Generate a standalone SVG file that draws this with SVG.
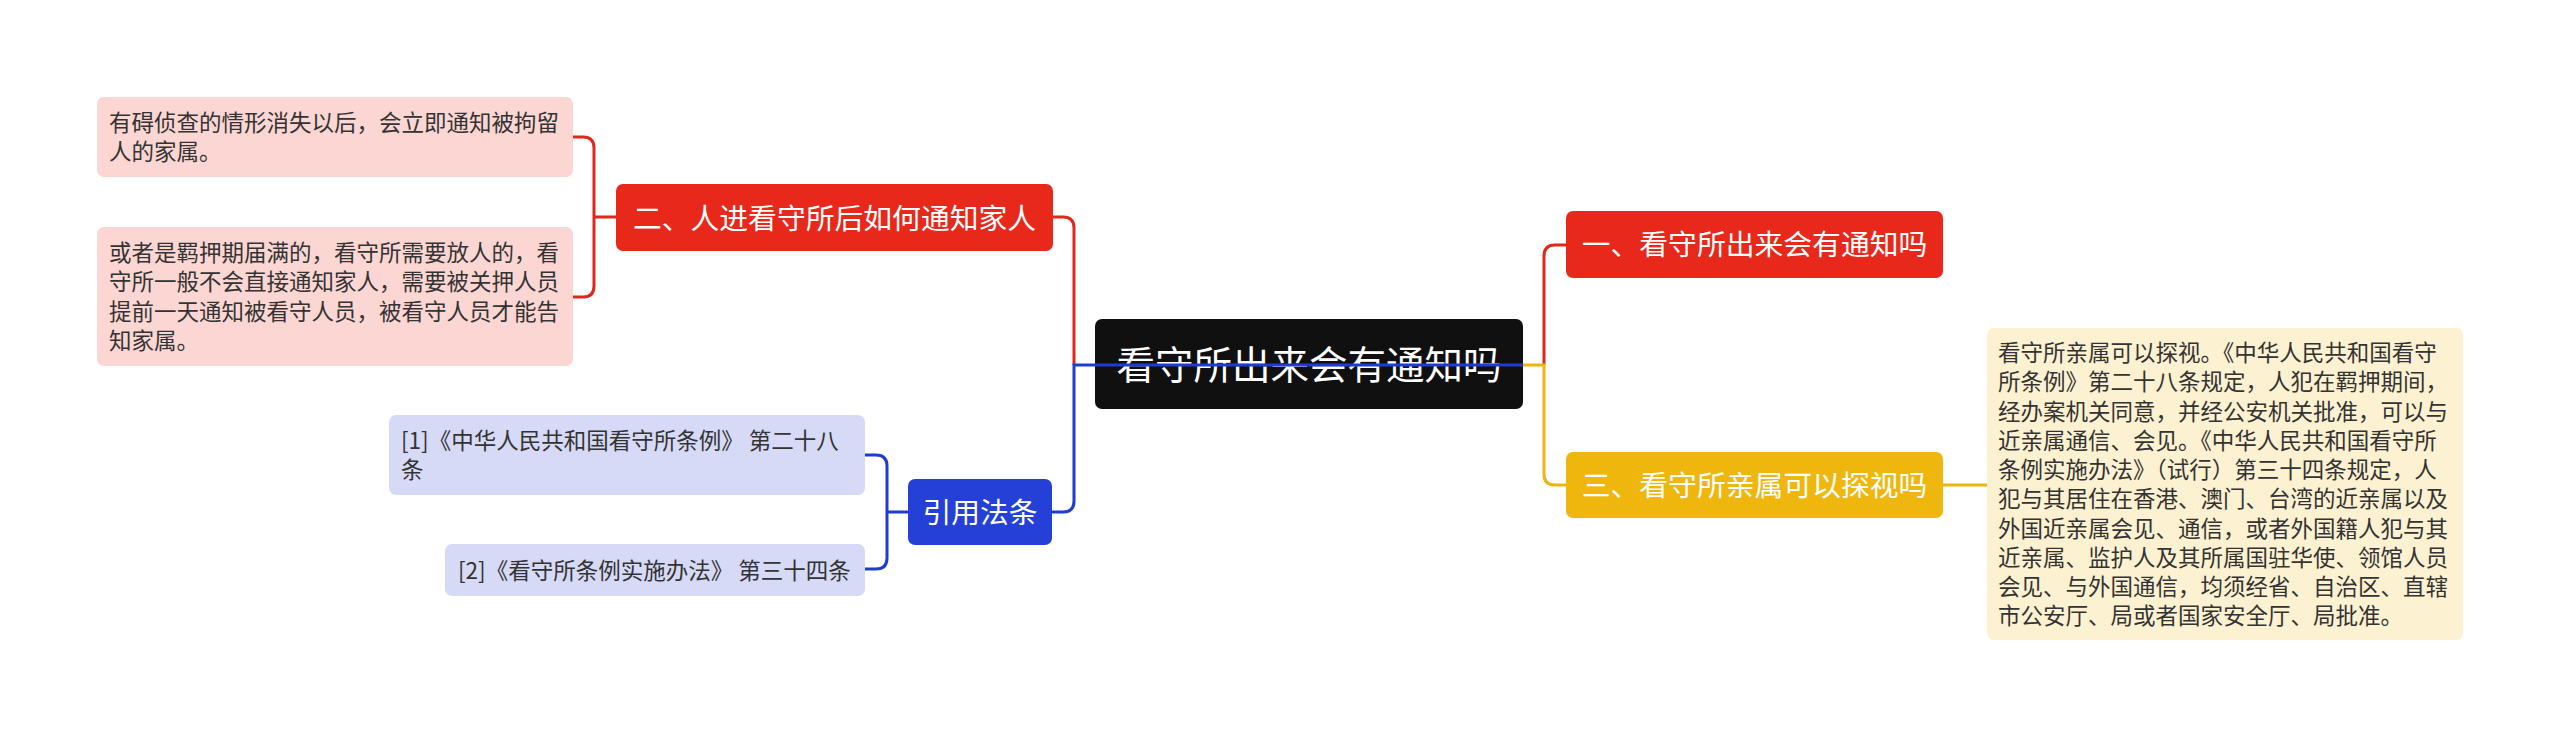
<svg xmlns="http://www.w3.org/2000/svg" width="2560" height="739" viewBox="0 0 2560 739">
<style>
text{font-family:"Noto Sans CJK SC","Noto Sans",sans-serif;}
.center{fill:#101010;}
.ctext{fill:#ffffff;font-size:38.5px;text-anchor:middle;}
.btext{fill:#ffffff;font-size:28.8px;text-anchor:middle;}
.red{fill:#e8281b;}
.yellow{fill:#efb70e;}
.blue{fill:#2440d6;}
.lred{fill:#fcd6d3;}
.lyellow{fill:#fcf1d0;}
.lblue{fill:#d6daf7;}
.ltext{fill:#333333;font-size:22.5px;}
.c{fill:none;stroke-width:3;}
.cr{stroke:#e0271b;}
.cy{stroke:#ecb50f;}
.cb{stroke:#1f3ccf;}
</style>
<rect width="2560" height="739" fill="#ffffff"/>
<g id="center">
<rect class="center" x="1095" y="319" width="428" height="90" rx="7"/>
<text class="ctext" x="1309" y="379">看守所出来会有通知吗</text>
</g>
<g id="n1">
<rect class="red" x="1566" y="211" width="377" height="67" rx="7"/>
<text class="btext" x="1754.5" y="255">一、看守所出来会有通知吗</text>
</g>
<g id="n3">
<rect class="yellow" x="1566" y="452" width="377" height="66" rx="7"/>
<text class="btext" x="1754.5" y="496">三、看守所亲属可以探视吗</text>
</g>
<g id="n3leaf">
<rect class="lyellow" x="1987" y="328" width="476" height="312" rx="7"/>
<text class="ltext" x="1998" y="361">看守所亲属可以探视。《中华人民共和国看守</text>
<text class="ltext" x="1998" y="390.25">所条例》第二十八条规定，人犯在羁押期间，</text>
<text class="ltext" x="1998" y="419.5">经办案机关同意，并经公安机关批准，可以与</text>
<text class="ltext" x="1998" y="448.75">近亲属通信、会见。《中华人民共和国看守所</text>
<text class="ltext" x="1998" y="478">条例实施办法》（试行）第三十四条规定，人</text>
<text class="ltext" x="1998" y="507.25">犯与其居住在香港、澳门、台湾的近亲属以及</text>
<text class="ltext" x="1998" y="536.5">外国近亲属会见、通信，或者外国籍人犯与其</text>
<text class="ltext" x="1998" y="565.75">近亲属、监护人及其所属国驻华使、领馆人员</text>
<text class="ltext" x="1998" y="595">会见、与外国通信，均须经省、自治区、直辖</text>
<text class="ltext" x="1998" y="624.25">市公安厅、局或者国家安全厅、局批准。</text>
</g>
<g id="n2">
<rect class="red" x="616" y="184" width="437" height="67" rx="7"/>
<text class="btext" x="834.5" y="228.5">二、人进看守所后如何通知家人</text>
</g>
<g id="n2leaf1">
<rect class="lred" x="97" y="97" width="476" height="80" rx="7"/>
<text class="ltext" x="109" y="131">有碍侦查的情形消失以后，会立即通知被拘留</text>
<text class="ltext" x="109" y="160.25">人的家属。</text>
</g>
<g id="n2leaf2">
<rect class="lred" x="97" y="227" width="476" height="139" rx="7"/>
<text class="ltext" x="109" y="261">或者是羁押期届满的，看守所需要放人的，看</text>
<text class="ltext" x="109" y="290.25">守所一般不会直接通知家人，需要被关押人员</text>
<text class="ltext" x="109" y="319.5">提前一天通知被看守人员，被看守人员才能告</text>
<text class="ltext" x="109" y="348.75">知家属。</text>
</g>
<g id="ref">
<rect class="blue" x="908" y="479" width="144" height="66" rx="7"/>
<text class="btext" x="980" y="523">引用法条</text>
</g>
<g id="ref1">
<rect class="lblue" x="389" y="415" width="476" height="80" rx="7"/>
<text class="ltext" x="401" y="449">[1]《中华人民共和国看守所条例》 第二十八</text>
<text class="ltext" x="401" y="478.25">条</text>
</g>
<g id="ref2">
<rect class="lblue" x="445" y="544" width="420" height="52" rx="7"/>
<text class="ltext" x="458" y="578.5">[2]《看守所条例实施办法》 第三十四条</text>
</g>
<g id="connectors">
<path class="c cr" d="M1053,217 H1063 Q1074,217 1074,228 V365"/>
<path class="c cr" d="M573,137 H583 Q594,137 594,148 V286 Q594,297 583,297 H573 M594,217 H616"/>
<path class="c cb" d="M1523,365 H1074 V501 Q1074,512 1063,512 H1052"/>
<path class="c cb" d="M865,455 H876 Q887,455 887,466 V558 Q887,569 876,569 H865 M887,512 H908"/>
<path class="c cr" d="M1544,365 V256 Q1544,245 1555,245 H1566"/>
<path class="c cy" d="M1523,365 H1544 V474 Q1544,485 1555,485 H1566"/>
<path class="c cy" d="M1943,485 H1987"/>
</g>
</svg>
